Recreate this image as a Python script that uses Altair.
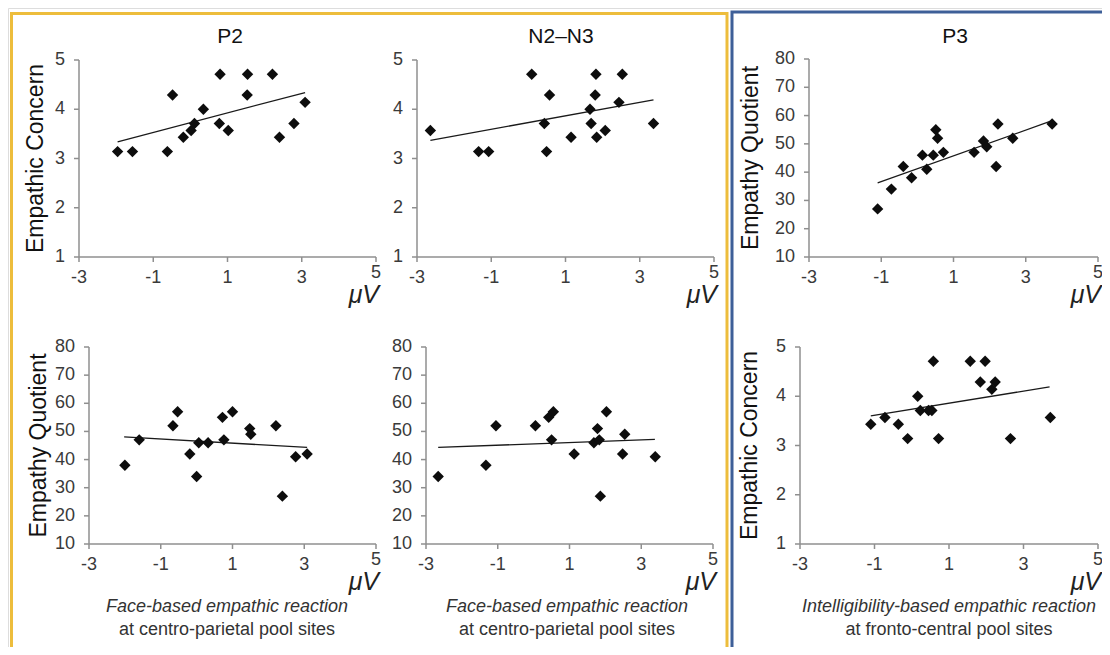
import altair as alt
import pandas as pd

# ---------------- data ----------------
X_TICKS = ["-3", "-1", "1", "3", "5"]
EC_TICKS = ["1", "2", "3", "4", "5"]
EQ_TICKS = ["10", "20", "30", "40", "50", "60", "70", "80"]

# P2 (face-based, centro-parietal) vs Empathic Concern
p2_ec_x = [-1.96, -1.56, -0.62, -0.48, -0.19, 0.02, 0.11, 0.35, 0.80, 0.78, 1.02, 1.54, 1.53, 2.21, 2.40, 2.79, 3.09]
p2_ec_y = [3.14, 3.14, 3.14, 4.29, 3.43, 3.57, 3.71, 4.00, 4.71, 3.71, 3.57, 4.71, 4.29, 4.71, 3.43, 3.71, 4.14]
p2_ec_line_x = [-1.96, 3.09]
p2_ec_line_y = [3.34, 4.34]

# N2-N3 vs Empathic Concern
n2_ec_x = [-2.64, -1.34, -1.07, 0.09, 0.43, 0.57, 0.49, 1.15, 1.66, 1.69, 1.82, 1.80, 1.84, 2.07, 2.44, 2.53, 3.37]
n2_ec_y = [3.57, 3.14, 3.14, 4.71, 3.71, 4.29, 3.14, 3.43, 4.00, 3.71, 4.71, 4.29, 3.43, 3.57, 4.14, 4.71, 3.71]
n2_ec_line_x = [-2.64, 3.37]
n2_ec_line_y = [3.37, 4.19]

# P3 (intelligibility-based, fronto-central) vs Empathy Quotient
p3_eq_x = [-1.10, -0.72, -0.39, -0.16, 0.14, 0.26, 0.44, 0.51, 0.56, 0.72, 1.57, 1.83, 1.92, 2.18, 2.23, 2.64, 3.73]
p3_eq_y = [27, 34, 42, 38, 46, 41, 46, 55, 52, 47, 47, 51, 49, 42, 57, 52, 57]
p3_eq_line_x = [-1.10, 3.71]
p3_eq_line_y = [36.2, 58.1]

# P2 vs Empathy Quotient
p2_eq_x = [-2.00, -1.60, -0.66, -0.53, -0.19, 0.00, 0.06, 0.32, 0.72, 0.76, 1.00, 1.48, 1.51, 2.21, 2.39, 2.76, 3.08]
p2_eq_y = [38, 47, 52, 57, 42, 34, 46, 46, 55, 47, 57, 51, 49, 52, 27, 41, 42]
p2_eq_line_x = [-2.02, 3.08]
p2_eq_line_y = [48.1, 44.3]

# N2-N3 vs Empathy Quotient
n2_eq_x = [-2.66, -1.33, -1.05, 0.05, 0.42, 0.55, 0.50, 1.13, 1.68, 1.78, 1.83, 1.86, 2.03, 2.48, 2.54, 3.39]
n2_eq_y = [34, 38, 52, 52, 55, 57, 47, 42, 46, 51, 47, 27, 57, 42, 49, 41]
n2_eq_line_x = [-2.66, 3.38]
n2_eq_line_y = [44.3, 47.2]

# P3 vs Empathic Concern
p3_ec_x = [-1.10, -0.72, -0.36, -0.11, 0.16, 0.23, 0.45, 0.54, 0.58, 0.72, 1.57, 1.84, 1.97, 2.15, 2.24, 2.65, 3.72]
p3_ec_y = [3.43, 3.57, 3.43, 3.14, 4.00, 3.71, 3.71, 3.71, 4.71, 3.14, 4.71, 4.29, 4.71, 4.14, 4.29, 3.14, 3.57]
p3_ec_line_x = [-1.10, 3.70]
p3_ec_line_y = [3.60, 4.19]

# ---------------- styling ----------------
AXIS_COLOR = "#8f8f8f"
LABEL_COLOR = "#3a3a3a"
NARROW = "Liberation Sans Narrow, Liberation Sans, Arial"
REG = "Liberation Sans, Arial"
ONE = pd.DataFrame({"a": [0]})


def panel(px, py, lx, ly, ydom, yticks, xrange, yrange, ytitle=None, title_dx=-45):
    xs = alt.Scale(domain=[-3, 5], range=xrange, nice=False, zero=False)
    ys = alt.Scale(domain=ydom, range=yrange, nice=False, zero=False)
    ymin, ymax = ydom

    def XD(v):
        return alt.XDatum(v, type="quantitative", scale=xs, axis=None)

    def YD(v):
        return alt.YDatum(v, type="quantitative", scale=ys, axis=None)

    def XF(f):
        return alt.X(f, type="quantitative", scale=xs, axis=None)

    def YF(f):
        return alt.Y(f, type="quantitative", scale=ys, axis=None)

    pts = pd.DataFrame({"x": px, "y": py})
    ln = pd.DataFrame({"x": lx, "y": ly})
    xt = pd.DataFrame({"lbl": X_TICKS})
    xt["v"] = xt["lbl"].astype(float)
    yt = pd.DataFrame({"lbl": yticks})
    yt["v"] = yt["lbl"].astype(float)

    layers = [
        # axis lines
        alt.Chart(ONE).mark_rule(color=AXIS_COLOR, strokeWidth=1.5).encode(
            x=XD(-3), x2=alt.X2Datum(5), y=YD(ymin)),
        alt.Chart(ONE).mark_rule(color=AXIS_COLOR, strokeWidth=1.5).encode(
            x=XD(-3), y=YD(ymin), y2=alt.Y2Datum(ymax)),
        # ticks
        alt.Chart(xt).mark_rule(color=AXIS_COLOR, strokeWidth=1.5, y2Offset=5).encode(
            x=XF("v"), y=YD(ymin), y2=alt.Y2Datum(ymin)),
        alt.Chart(yt).mark_rule(color=AXIS_COLOR, strokeWidth=1.5, xOffset=-5).encode(
            y=YF("v"), x=XD(-3), x2=alt.X2Datum(-3)),
        # tick labels
        alt.Chart(xt[xt["v"] < 5]).mark_text(
            font=NARROW, fontSize=18, color=LABEL_COLOR, baseline="middle", dy=21
        ).encode(x=XF("v"), y=YD(ymin), text="lbl:N"),
        alt.Chart(xt[xt["v"] == 5]).mark_text(
            font=NARROW, fontSize=18, color=LABEL_COLOR, baseline="middle", dy=16
        ).encode(x=XF("v"), y=YD(ymin), text="lbl:N"),
        alt.Chart(yt).mark_text(
            font=NARROW, fontSize=18, color=LABEL_COLOR, baseline="middle", align="right", dx=-14
        ).encode(y=YF("v"), x=XD(-3), text="lbl:N"),
        # unit label
        alt.Chart(ONE).mark_text(
            text="μV", font=REG, fontSize=25, fontStyle="italic", color="#222222",
            align="right", baseline="alphabetic", dx=3, dy=46
        ).encode(x=XD(5), y=YD(ymin)),
        # regression line
        alt.Chart(ln).mark_line(color="#1a1a1a", strokeWidth=1.3).encode(
            x=XF("x"), y=YF("y")),
        # points
        alt.Chart(pts).mark_point(shape="diamond", filled=True, size=130, color="#0d0d0d", opacity=1).encode(
            x=XF("x"), y=YF("y")),
    ]
    if ytitle:
        layers.append(
            alt.Chart(ONE).mark_text(
                text=ytitle, font=NARROW, fontSize=23, color="#111111", angle=270,
                baseline="middle", align="center", dx=0, dy=title_dx
            ).encode(x=XD(-3), y=YD((ymin + ymax) / 2))
        )
    return alt.layer(*layers)


panels = [
    panel(p2_ec_x, p2_ec_y, p2_ec_line_x, p2_ec_line_y, [1, 5], EC_TICKS,
          [71, 368], [249, 52], "Empathic Concern", -43),
    panel(n2_ec_x, n2_ec_y, n2_ec_line_x, n2_ec_line_y, [1, 5], EC_TICKS,
          [409, 706], [249, 52]),
    panel(p3_eq_x, p3_eq_y, p3_eq_line_x, p3_eq_line_y, [10, 80], EQ_TICKS,
          [801, 1090], [249, 51], "Empathy Quotient", -58),
    panel(p2_eq_x, p2_eq_y, p2_eq_line_x, p2_eq_line_y, [10, 80], EQ_TICKS,
          [81, 368], [536, 339], "Empathy Quotient", -50),
    panel(n2_eq_x, n2_eq_y, n2_eq_line_x, n2_eq_line_y, [10, 80], EQ_TICKS,
          [418, 705], [536, 339]),
    panel(p3_ec_x, p3_ec_y, p3_ec_line_x, p3_ec_line_y, [1, 5], EC_TICKS,
          [792, 1090], [536, 339], "Empathic Concern", -50),
]

# ---------------- frames, titles, captions ----------------
frame_yellow = alt.Chart(ONE).mark_rect(fillOpacity=0, stroke="#EDBD3C", strokeWidth=3).encode(
    x=alt.value(3.5), x2=alt.value(719), y=alt.value(5.5), y2=alt.value(645))
frame_blue = alt.Chart(ONE).mark_rect(fillOpacity=0, stroke="#3E5F98", strokeWidth=3).encode(
    x=alt.value(724), x2=alt.value(1110), y=alt.value(4), y2=alt.value(650))

titles = ["P2", "N2–N3", "P3"]
title_x = [222, 553, 947]
title_layers = [
    alt.Chart(ONE).mark_text(text=t, font=REG, fontSize=21, color="#111111",
                             align="center", baseline="alphabetic").encode(
        x=alt.value(tx), y=alt.value(35))
    for t, tx in zip(titles, title_x)
]

cap1 = ["Face-based empathic reaction", "Face-based empathic reaction",
        "Intelligibility-based empathic reaction"]
cap2 = ["at centro-parietal pool sites", "at centro-parietal pool sites",
        "at fronto-central  pool sites"]
cap_x = [219, 559, 941]
cap_layers = []
for c1, c2, cx in zip(cap1, cap2, cap_x):
    cap_layers.append(alt.Chart(ONE).mark_text(
        text=c1, font=REG, fontSize=18, fontStyle="italic", color="#333333",
        align="center", baseline="alphabetic").encode(x=alt.value(cx), y=alt.value(604)))
    cap_layers.append(alt.Chart(ONE).mark_text(
        text=c2, font=REG, fontSize=18, color="#333333",
        align="center", baseline="alphabetic").encode(x=alt.value(cx), y=alt.value(627)))

chart = alt.layer(
    *panels, frame_yellow, frame_blue, *title_layers, *cap_layers
).resolve_scale(x="independent", y="independent").properties(
    width=1094, height=639, padding=0, autosize=alt.AutoSizeParams(type="none")
).configure_view(stroke=None).configure(background="white")

chart.save("out.html", embed_options={"renderer": "svg", "actions": False})
